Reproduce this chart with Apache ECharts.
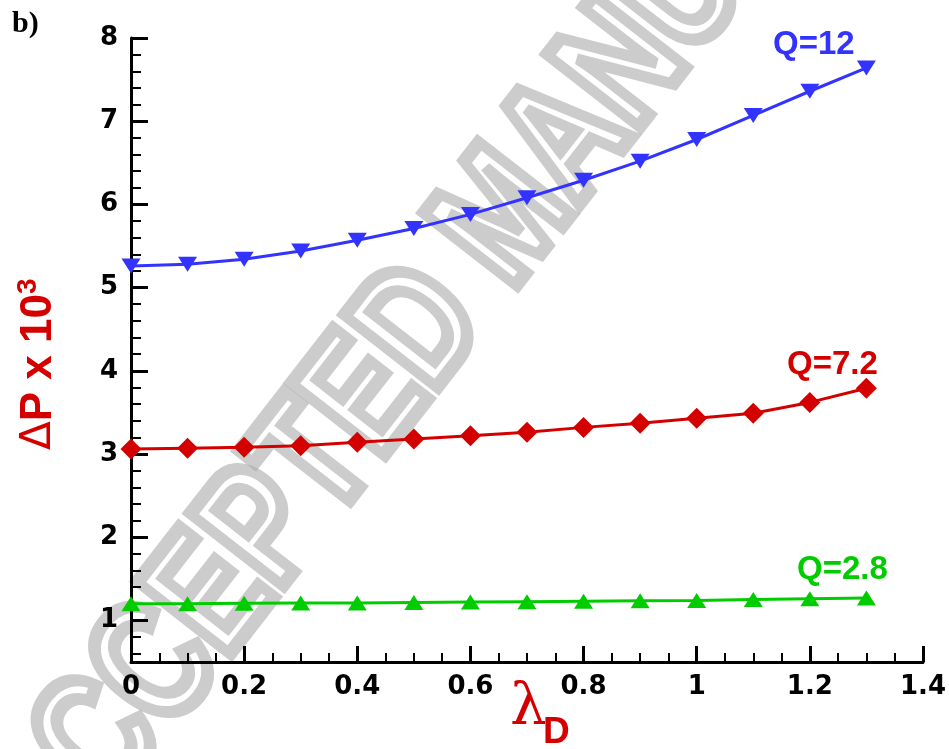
<!DOCTYPE html>
<html>
<head>
<meta charset="utf-8">
<script src="https://cdn.jsdelivr.net/npm/echarts@6/dist/echarts.min.js"></script>
<style>
html,body{margin:0;padding:0;background:#fff;}
#main{width:949px;height:749px;}
</style>
</head>
<body>
<div id="main"></div>
<script>
const lambdaD = [0, 0.1, 0.2, 0.3, 0.4, 0.5, 0.6, 0.7, 0.8, 0.9, 1.0, 1.1, 1.2, 1.3];
const dpQ12  = [5.26, 5.28, 5.34, 5.44, 5.57, 5.71, 5.88, 6.08, 6.29, 6.52, 6.78, 7.07, 7.36, 7.64];
const dpQ72  = [3.06, 3.07, 3.08, 3.10, 3.14, 3.18, 3.22, 3.26, 3.32, 3.37, 3.43, 3.49, 3.62, 3.79];
const dpQ28  = [1.20, 1.20, 1.205, 1.21, 1.21, 1.215, 1.22, 1.225, 1.23, 1.235, 1.24, 1.25, 1.26, 1.27];
const seriesNames = ['Q=12', 'Q=7.2', 'Q=2.8'];

const BLUE = '#3333ff', RED = '#d40000', GREEN = '#00cc00';
const chart = echarts.init(document.getElementById('main'));
const pairs = arr => lambdaD.map((x, i) => [x, arr[i]]);
const tickFont = {fontFamily: 'DejaVu Sans, sans-serif', fontWeight: 'bold', fontSize: 26, color: '#000'};
const qFont = 'bold 33px Liberation Sans, Arial, sans-serif';

chart.setOption({
  animation: false,
  backgroundColor: '#fff',
  grid: {left: 131, right: 24, top: 38, bottom: 87, containLabel: false},
  xAxis: {
    type: 'value', min: 0, max: 1.4, interval: 0.2,
    axisLine: {lineStyle: {color: '#000', width: 3}},
    axisTick: {inside: true, length: 16, lineStyle: {color: '#000', width: 3}},
    minorTick: {show: true, splitNumber: 4, length: 9, lineStyle: {color: '#000', width: 2}},
    splitLine: {show: false},
    axisLabel: Object.assign({margin: 12, formatter: v => String(+v.toFixed(1))}, tickFont)
  },
  yAxis: {
    type: 'value', min: 0.5, max: 8, splitNumber: 8,
    axisLine: {show: true, lineStyle: {color: '#000', width: 3}},
    axisTick: {show: true, inside: true, length: 17, lineStyle: {color: '#000', width: 3}},
    minorTick: {show: true, splitNumber: 5, length: 10, lineStyle: {color: '#000', width: 2}},
    splitLine: {show: false},
    axisLabel: Object.assign({margin: 13, formatter: v => (Math.abs(v - Math.round(v)) < 1e-6 ? String(Math.round(v)) : '')}, tickFont)
  },
  series: [
    {name: seriesNames[0], type: 'line', data: pairs(dpQ12), symbol: 'triangle', symbolRotate: 180, symbolSize: [19, 15],
     lineStyle: {color: BLUE, width: 3}, itemStyle: {color: BLUE}, z: 5},
    {name: seriesNames[1], type: 'line', data: pairs(dpQ72), symbol: 'diamond', symbolSize: [21, 21],
     lineStyle: {color: RED, width: 3}, itemStyle: {color: RED}, z: 5},
    {name: seriesNames[2], type: 'line', data: pairs(dpQ28), symbol: 'triangle', symbolSize: [19, 15],
     lineStyle: {color: GREEN, width: 3}, itemStyle: {color: GREEN}, z: 5}
  ],
  graphic: [
    {type: 'text', z: 0, x: 509, y: 218, rotation: 0.91, scaleX: 0.76,
     style: {text: 'ACCEPTED MANUSCRIPT', font: 'bold 170px Liberation Sans, Arial, sans-serif',
             fill: 'rgba(0,0,0,0)', stroke: 'rgba(170,170,170,0.6)', lineWidth: 14, align: 'center', verticalAlign: 'middle'}},
    {type: 'text', left: 12, top: 9,
     style: {text: 'b)', font: 'bold 30px Liberation Serif, Times New Roman, serif', fill: '#000'}},
    {type: 'text', left: 773, top: 28,
     style: {text: seriesNames[0], font: qFont, fill: BLUE}},
    {type: 'text', left: 787, top: 348,
     style: {text: seriesNames[1], font: qFont, fill: RED}},
    {type: 'text', left: 797, top: 553,
     style: {text: seriesNames[2], font: qFont, fill: GREEN}},
    {type: 'text', left: 510, top: 680,
     style: {text: 'λ', font: 'normal 58px DejaVu Serif, serif', fill: RED}},
    {type: 'text', left: 543, top: 714,
     style: {text: 'D', font: 'bold 37px Liberation Sans, Arial, sans-serif', fill: RED}},
    {type: 'text', x: 14, y: 450, rotation: Math.PI / 2,
     style: {rich: {
        d: {fontFamily: 'DejaVu Sans, sans-serif', fontSize: 42, fill: RED, fontWeight: 'normal'},
        t: {fontFamily: 'Liberation Sans, Arial, sans-serif', fontWeight: 'bold', fontSize: 44, fill: RED},
        p: {fontFamily: 'Liberation Sans, Arial, sans-serif', fontWeight: 'bold', fontSize: 28, fill: RED, padding: [0, 0, 22, 0]}
      }, text: '{d|Δ}{t|P x 10}{p|3}', verticalAlign: 'top'}}
  ]
});
</script>
</body>
</html>
